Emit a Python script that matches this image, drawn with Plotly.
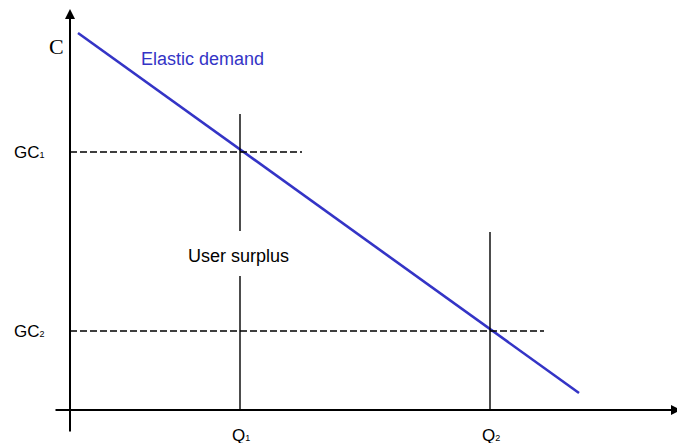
import plotly.graph_objects as go

# ---- data (conceptual units: quantity Q on x, generalised cost C on y) ----
demand_q = [8, 509]
demand_c = [377, 17]
q_levels = [170, 420]          # Q1, Q2
gc_levels = [258, 79]          # GC1, GC2
gc_dash_end = [232, 474]       # extent of the dashed GC lines
q1_upper = [296, 179]          # Q1 vertical, upper segment
q1_lower = [134, 0]            # Q1 vertical, lower segment
q2_span = [178, 0]             # Q2 vertical
q_labels = ["Q<span style='font-size:9px'>1</span>",
            "Q<span style='font-size:9px'>2</span>"]
gc_labels = ["GC<span style='font-size:9px'>1</span>",
             "GC<span style='font-size:9px'>2</span>"]
axis_x_span = [-16, 611]
axis_y_span = [-23, 401]

BLUE = "#3434c6"
SANS = "Liberation Sans, Arial, sans-serif"
SERIF = "Liberation Serif, Times New Roman, serif"

fig = go.Figure()

# demand curve
fig.add_trace(go.Scatter(x=demand_q, y=demand_c, mode="lines",
                         line=dict(color=BLUE, width=2.6), hoverinfo="skip"))

# dashed GC lines
for gc, xe in zip(gc_levels, gc_dash_end):
    fig.add_trace(go.Scatter(x=[0, xe], y=[gc, gc], mode="lines",
                             line=dict(color="black", width=1.5, dash="7px,3px"),
                             hoverinfo="skip"))

# vertical Q lines
fig.add_trace(go.Scatter(x=[q_levels[0]] * 2, y=q1_upper, mode="lines",
                         line=dict(color="black", width=1.4), hoverinfo="skip"))
fig.add_trace(go.Scatter(x=[q_levels[0]] * 2, y=q1_lower, mode="lines",
                         line=dict(color="black", width=1.4), hoverinfo="skip"))
fig.add_trace(go.Scatter(x=[q_levels[1]] * 2, y=q2_span, mode="lines",
                         line=dict(color="black", width=1.4), hoverinfo="skip"))

annotations = []
# axes with arrows
annotations.append(dict(x=axis_x_span[1], y=0, ax=axis_x_span[0], ay=0,
                        xref="x", yref="y", axref="x", ayref="y", text="",
                        showarrow=True, arrowhead=2, arrowsize=1, arrowwidth=2,
                        arrowcolor="black", standoff=0, startstandoff=0))
annotations.append(dict(x=0, y=axis_y_span[1], ax=0, ay=axis_y_span[0],
                        xref="x", yref="y", axref="x", ayref="y", text="",
                        showarrow=True, arrowhead=2, arrowsize=1, arrowwidth=2,
                        arrowcolor="black", standoff=0, startstandoff=0))

# text labels
annotations.append(dict(x=-14, y=364, text="C", showarrow=False,
                        font=dict(family=SERIF, size=22, color="black"),
                        xanchor="center", yanchor="middle"))
annotations.append(dict(x=605, y=-22, text="Q", showarrow=False,
                        font=dict(family=SERIF, size=22, color="black"),
                        xanchor="left", yanchor="middle"))
annotations.append(dict(x=69, y=351, text="Elastic demand", showarrow=False,
                        font=dict(family=SANS, size=18, color=BLUE),
                        xanchor="left", yanchor="middle"))
annotations.append(dict(x=168, y=154, text="User surplus", showarrow=False,
                        font=dict(family=SANS, size=18, color="black"),
                        xanchor="center", yanchor="middle"))
for gc, lab in zip(gc_levels, gc_labels):
    annotations.append(dict(x=-58, y=gc, text=lab, showarrow=False,
                            font=dict(family=SANS, size=17, color="black"),
                            xanchor="left", yanchor="middle"))
for q, lab in zip(q_levels, q_labels):
    annotations.append(dict(x=q + 1, y=-25, text=lab, showarrow=False,
                            font=dict(family=SANS, size=17, color="black"),
                            xanchor="center", yanchor="middle"))

# the page body adds an 8px offset; the ranges compensate so marks land in place
fig.update_layout(
    width=685, height=443,
    margin=dict(l=0, r=0, t=0, b=0),
    paper_bgcolor="white", plot_bgcolor="white",
    showlegend=False,
    xaxis=dict(range=[-62, 623], visible=False, fixedrange=True),
    yaxis=dict(range=[-41, 402], visible=False, fixedrange=True),
    annotations=annotations,
)

fig.write_html("out.html")
